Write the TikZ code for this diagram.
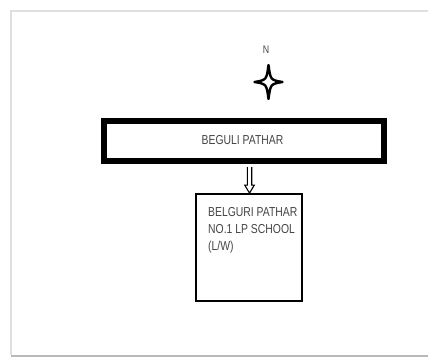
\documentclass[tikz,border=0pt]{standalone}
\usepackage{fontspec}
\setmainfont{Liberation Sans}[FakeStretch=0.8]
\usetikzlibrary{calc}
\definecolor{txtgray}{HTML}{454545}
\tikzset{
  lbl/.style={text=txtgray, inner sep=0pt, font=\fontsize{13}{17}\selectfont},
  widebox/.style={draw=black, line width=6pt, inner sep=0pt, minimum width=280pt, minimum height=40pt},
  schoolbox/.style={draw=black, line width=1.8pt, inner sep=0pt, minimum width=106pt, minimum height=107pt},
  hollowarrow/.style={draw=black, line width=1.1pt, fill=white, line join=miter},
  compass/.style={draw=black, line width=2.4pt, line join=round},
}
\begin{document}
\begin{tikzpicture}[x=1pt,y=-1pt]
\useasboundingbox (0,0) rectangle (428,359);
% page frame
\draw[gray!25, line width=1.5pt] (11,355) -- (11,11) -- (430,11);
\draw[gray!55, line width=2pt] (11,356) -- (430,356);
% north marker
\node[lbl, font=\fontsize{11}{12}\selectfont] (north) at (266,50) {N};
\draw[compass] (268.5,65) .. controls (270.5,80) .. (282.5,82)
  .. controls (270.5,84) .. (268.5,99)
  .. controls (266.5,84) .. (254.5,82)
  .. controls (266.5,80) .. (268.5,65) -- cycle;
% road box
\node[widebox] (road) at (244,141) {};
\node[lbl] (roadtext) at (242.5,140.5) {BEGULI PATHAR};
% school box
\node[schoolbox] (school) at (249,247.5) {};
\node[lbl, anchor=north west, align=left] (schooltext) at (208,207) {BELGURI PATHAR\\NO.1 LP SCHOOL\\(L/W)};
% hollow arrow
\coordinate (tip) at ($(school.north)+(0.5,0)$);
\coordinate (top) at ($(tip |- road.south)+(0,3)$);
\draw[hollowarrow] ($(top)+(-2.2,0)$) -- ($(tip)+(-2.2,-8)$) -- ($(tip)+(-4.8,-8)$) -- (tip) -- ($(tip)+(4.8,-8)$) -- ($(tip)+(2.2,-8)$) -- ($(top)+(2.2,0)$);
\end{tikzpicture}
\end{document}
